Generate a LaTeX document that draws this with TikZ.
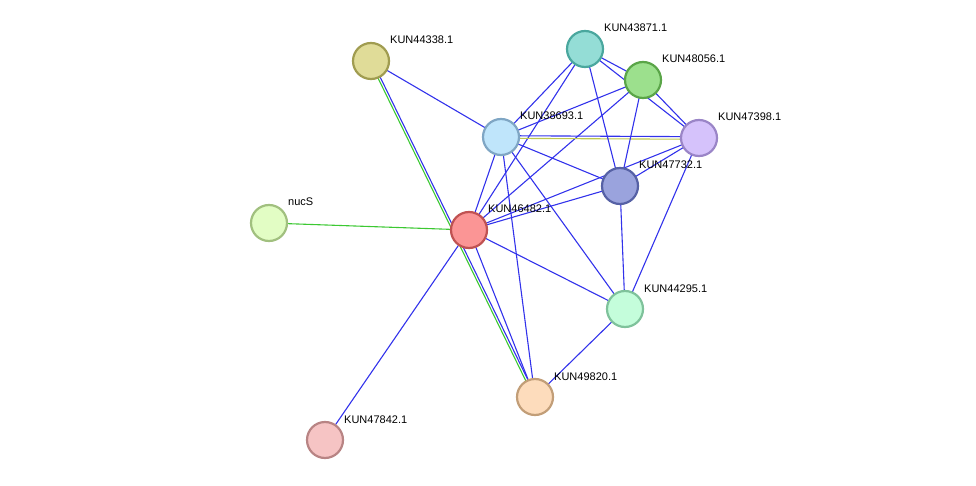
\documentclass[tikz,border=0pt]{standalone}
\usepackage{fontspec}
\setmainfont{Liberation Sans}
\begin{document}
\begin{tikzpicture}[x=1pt,y=-1pt,
 prot/.style={circle,minimum size=36pt,inner sep=0pt,line width=2.2pt},
 lab/.style={anchor=base west,inner sep=0pt,font=\fontsize{11}{13}\selectfont},
 bl/.style={draw={rgb,255:red,50;green,50;blue,235},line width=1.1pt},
 gr/.style={draw={rgb,255:red,60;green,200;blue,50},line width=1.1pt},
 yl/.style={draw={rgb,255:red,190;green,200;blue,80},line width=1.1pt}]
\useasboundingbox (0,0) rectangle (976,486);
\def\mk#1#2#3#4#5#6{\node[prot,fill={rgb,255:#4},draw={rgb,255:#5}] (#1) at (#2,#3) {};
 \node[lab] (#1l) at (#2+19,#3-17) {#6};}
\path[use as bounding box] (0,0);
\begin{scope}[on background layer/.style={}]
\end{scope}
% coordinates first
\coordinate (c44338) at (371,61);
\coordinate (c43871) at (585,49);
\coordinate (c48056) at (643,80);
\coordinate (c38693) at (501,137);
\coordinate (c47398) at (699,138);
\coordinate (c47732) at (620,186);
\coordinate (cnucS) at (269,223);
\coordinate (c46482) at (469,230);
\coordinate (c44295) at (625,309);
\coordinate (c49820) at (535,397);
\coordinate (c47842) at (325,440);
% edges
\draw[bl] (c44338) -- (c38693);
\draw[gr] ([xshift=-1.3pt]c44338) -- ([xshift=-1.3pt]c49820);
\draw[bl] ([xshift=1.3pt]c44338) -- ([xshift=1.3pt]c49820);
\draw[gr] (cnucS) -- (c46482);
\foreach \t in {47842,38693,43871,48056,47732,47398,44295,49820}
  \draw[bl] (c46482) -- (c\t);
\draw[yl] ([yshift=-1.3pt]c38693) -- ([yshift=-1.3pt]c47398);
\draw[bl] ([yshift=1.3pt]c38693) -- ([yshift=1.3pt]c47398);
\foreach \t in {43871,48056,47732,44295,49820}
  \draw[bl] (c38693) -- (c\t);
\foreach \a/\b in {43871/48056,43871/47398,43871/47732,48056/47398,48056/47732,47398/47732,47398/44295,47732/44295,44295/49820}
  \draw[bl] (c\a) -- (c\b);
% nodes
\mk{n44338}{371}{61}{red,224;green,220;blue,152}{red,160;green,156;blue,80}{KUN44338.1}
\mk{n43871}{585}{49}{red,148;green,221;blue,214}{red,74;green,167;blue,158}{KUN43871.1}
\mk{n48056}{643}{80}{red,156;green,224;blue,141}{red,90;green,165;blue,72}{KUN48056.1}
\mk{n38693}{501}{137}{red,191;green,229;blue,251}{red,127;green,166;blue,196}{KUN38693.1}
\mk{n47398}{699}{138}{red,213;green,194;blue,251}{red,154;green,133;blue,199}{KUN47398.1}
\mk{n47732}{620}{186}{red,154;green,163;blue,221}{red,86;green,97;blue,165}{KUN47732.1}
\mk{nnucS}{269}{223}{red,226;green,253;blue,196}{red,161;green,192;blue,127}{nucS}
\mk{n46482}{469}{230}{red,251;green,149;blue,149}{red,192;green,82;blue,82}{KUN46482.1}
\mk{n44295}{625}{309}{red,196;green,253;blue,219}{red,127;green,194;blue,155}{KUN44295.1}
\mk{n49820}{535}{397}{red,253;green,220;blue,188}{red,194;green,158;blue,120}{KUN49820.1}
\mk{n47842}{325}{440}{red,246;green,196;blue,196}{red,184;green,132;blue,132}{KUN47842.1}
\end{tikzpicture}
\end{document}
